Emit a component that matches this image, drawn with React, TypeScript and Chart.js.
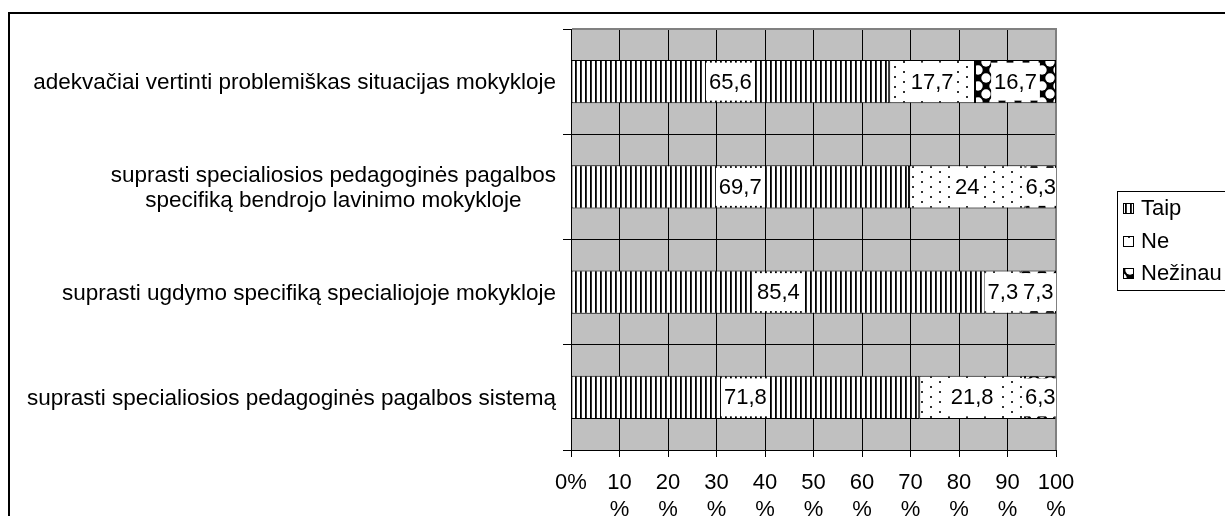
import React, { useEffect, useRef } from 'react';
import { Chart, registerables } from 'chart.js';

Chart.register(...registerables);

const categoryLines: string[][] = [
  ['adekvačiai vertinti problemiškas situacijas mokykloje'],
  ['suprasti specialiosios pedagoginės pagalbos', 'specifiką bendrojo lavinimo mokykloje'],
  ['suprasti ugdymo specifiką specialiojoje mokykloje'],
  ['suprasti specialiosios pedagoginės pagalbos sistemą'],
];
const seriesNames = ['Taip', 'Ne', 'Nežinau'];
const taipValues = [65.6, 69.7, 85.4, 71.8];
const neValues = [17.7, 24, 7.3, 21.8];
const nezinauValues = [16.7, 6.3, 7.3, 6.3];
const xTickValues = [0, 10, 20, 30, 40, 50, 60, 70, 80, 90, 100];

const FONT = '"Liberation Sans", Arial, sans-serif';
const FS = 22;
const FS_CAT = 22.5;
const W = 1215;
const H = 502;
const AREA_LEFT = 561;
const AREA_RIGHT = 1046;
const AREA_TOP = 15;
const AREA_BOTTOM = 436;

function makeTile(w: number, h: number, draw: (g: CanvasRenderingContext2D) => void) {
  const c = document.createElement('canvas');
  c.width = w;
  c.height = h;
  const g = c.getContext('2d')!;
  draw(g);
  return c;
}

function makePatterns(ctx: CanvasRenderingContext2D) {
  const stripes = makeTile(5, 5, (g) => {
    g.fillStyle = '#fff';
    g.fillRect(0, 0, 5, 5);
    g.fillStyle = '#000';
    g.fillRect(0, 0, 1, 5);
    g.fillStyle = '#333';
    g.fillRect(1, 0, 1, 5);
  });
  const dots = makeTile(18, 10, (g) => {
    g.fillStyle = '#fff';
    g.fillRect(0, 0, 18, 10);
    g.fillStyle = '#333';
    g.fillRect(2, 2, 2, 2);
    g.fillRect(11, 7, 2, 2);
  });
  const diamonds = makeTile(16, 16, (g) => {
    g.fillStyle = '#000';
    g.fillRect(0, 0, 16, 16);
    g.fillStyle = '#fff';
    const pts = [[0, 0], [16, 0], [0, 16], [16, 16], [8, 8]];
    for (const [x, y] of pts) {
      g.beginPath();
      g.arc(x, y, 4.7, 0, Math.PI * 2);
      g.fill();
    }
  });
  return [
    ctx.createPattern(stripes, 'repeat')!,
    ctx.createPattern(dots, 'repeat')!,
    ctx.createPattern(diamonds, 'repeat')!,
  ];
}

function fmt(v: number) {
  return String(v).replace('.', ',');
}

export default function App() {
  const ref = useRef<HTMLCanvasElement>(null);

  useEffect(() => {
    const canvas = ref.current!;
    const ctx = canvas.getContext('2d')!;
    const patterns = makePatterns(ctx);

    const bgPlugin = {
      id: 'plotBg',
      beforeDraw(chart: any) {
        const a = chart.chartArea;
        const c = chart.ctx;
        c.save();
        c.fillStyle = '#c0c0c0';
        c.fillRect(a.left, a.top, a.right - a.left, a.bottom - a.top);
        c.restore();
      },
      beforeDatasetsDraw(chart: any) {
        const a = chart.chartArea;
        const c = chart.ctx;
        c.save();
        c.strokeStyle = '#808080';
        c.lineWidth = 2;
        c.beginPath();
        c.moveTo(a.left + 1, a.top);
        c.lineTo(a.right, a.top);
        c.lineTo(a.right, a.bottom);
        c.stroke();
        c.restore();
      },
      afterDatasetsDraw(chart: any) {
        const a = chart.chartArea;
        const c = chart.ctx;
        c.save();
        c.beginPath();
        c.rect(a.left, a.top, a.right - a.left, a.bottom - a.top);
        c.clip();
        c.font = `${FS}px ${FONT}`;
        c.textAlign = 'center';
        c.textBaseline = 'middle';
        chart.data.datasets.forEach((ds: any, di: number) => {
          const meta = chart.getDatasetMeta(di);
          meta.data.forEach((el: any, i: number) => {
            const p = el.getProps(['x', 'y', 'base'], true);
            const cx = (p.x + p.base) / 2;
            const txt = fmt(ds.data[i]);
            const w = c.measureText(txt).width + 6;
            c.fillStyle = '#fff';
            c.fillRect(cx - w / 2, p.y - 19, w, 38);
            c.fillStyle = '#000';
            c.fillText(txt, cx, p.y + 1);
          });
        });
        c.restore();
      },
      afterDraw(chart: any) {
        const c = chart.ctx;
        const yScale = chart.scales.y;
        c.save();
        c.font = `${FS_CAT}px ${FONT}`;
        c.fillStyle = '#000';
        c.textAlign = 'center';
        c.textBaseline = 'middle';
        const rightEdge = 546;
        categoryLines.forEach((lines, i) => {
          const cy = yScale.getPixelForValue(i) + 1.5;
          const widths = lines.map((l) => c.measureText(l).width);
          const bw = Math.max(...widths);
          const cx = rightEdge - bw / 2;
          const lh = 25;
          const startY = cy - ((lines.length - 1) * lh) / 2;
          lines.forEach((l, k) => c.fillText(l, cx, startY + k * lh));
        });
        // legend
        c.font = `${FS}px ${FONT}`;
        const lx = 1107;
        const ly = 177;
        c.strokeStyle = '#000';
        c.lineWidth = 1;
        c.strokeRect(lx + 0.5, ly + 0.5, 200, 99);
        c.textAlign = 'left';
        const itemY = [194, 227, 259];
        seriesNames.forEach((name, k) => {
          const y = itemY[k];
          c.fillStyle = patterns[k];
          c.fillRect(lx + 6, y - 5, 10, 10);
          c.strokeStyle = '#000';
          c.strokeRect(lx + 6.5, y - 4.5, 10, 10);
          c.fillStyle = '#000';
          c.fillText(name, lx + 24, y + 1);
        });
        c.restore();
      },
    };

    const chart = new Chart(ctx, {
      type: 'bar',
      data: {
        labels: categoryLines.map((l) => l.join(' ')),
        datasets: [
          { label: seriesNames[0], data: taipValues, backgroundColor: patterns[0] },
          { label: seriesNames[1], data: neValues, backgroundColor: patterns[1] },
          { label: seriesNames[2], data: nezinauValues, backgroundColor: patterns[2] },
        ].map((d) => ({
          ...d,
          borderColor: '#000',
          borderWidth: 1,
          borderSkipped: false,
          barPercentage: 0.41,
          categoryPercentage: 1,
        })),
      },
      options: {
        indexAxis: 'y',
        animation: false,
        responsive: false,
        devicePixelRatio: 1,
        layout: { padding: { top: AREA_TOP, right: W - AREA_RIGHT, left: 0, bottom: 0 } },
        plugins: {
          legend: { display: false },
          tooltip: { enabled: false },
        },
        scales: {
          x: {
            type: 'linear',
            stacked: true,
            min: 0,
            max: 100,
            afterBuildTicks(scale: any) {
              scale.ticks = xTickValues.map((v) => ({ value: v }));
            },
            afterFit(scale: any) {
              scale.height = H - AREA_BOTTOM;
            },
            ticks: {
              autoSkip: false,
              maxRotation: 0,
              minRotation: 0,
              padding: 12,
              color: '#000',
              font: { family: FONT, size: FS, lineHeight: 1.23 },
              callback: (v: any) => (Number(v) === 0 ? '0%' : [String(v), '%']),
            },
            grid: { color: '#000', lineWidth: 1, tickLength: 7, drawTicks: true },
            border: { color: '#000', width: 1 },
          },
          y: {
            type: 'category',
            stacked: true,
            afterFit(scale: any) {
              scale.width = AREA_LEFT;
            },
            ticks: { display: false },
            grid: { color: '#000', lineWidth: 1, tickLength: 8, offset: true, drawTicks: true },
            border: { color: '#000', width: 1 },
          },
        },
      },
      plugins: [bgPlugin],
    } as any);

    return () => chart.destroy();
  }, []);

  return (
    <div
      style={{
        position: 'fixed',
        left: 8,
        top: 12,
        borderTop: '2px solid #000',
        borderLeft: '2px solid #000',
        background: '#fff',
      }}
    >
      <canvas ref={ref} width={W} height={H} style={{ display: 'block', width: W, height: H }} />
    </div>
  );
}
